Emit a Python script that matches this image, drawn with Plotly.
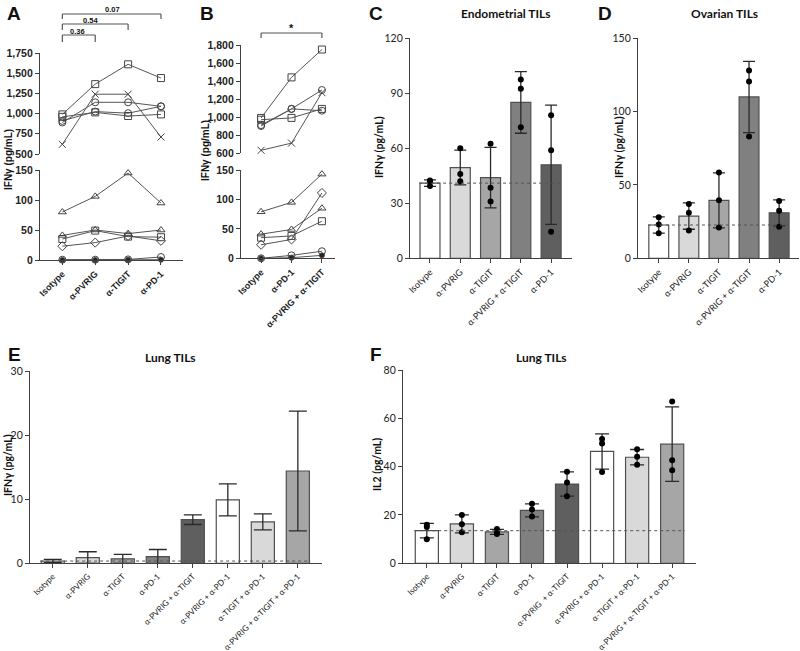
import plotly.graph_objects as go

W, H = 800, 651

# ---------------- DATA ----------------
A_cats = ["Isotype", "α-PVRIG", "α-TIGIT", "α-PD-1"]
A_high_sq1 = [990, 1365, 1610, 1440]
A_high_x = [620, 1240, 1240, 710]
A_high_circ1 = [890, 1140, 1140, 1090]
A_high_circ2 = [910, 1025, 1005, 1090]
A_high_sq2 = [960, 1015, 970, 990]
A_low_tri1 = [80, 106, 145, 95]
A_low_tri2 = [41, 50, 44, 50]
A_low_sq = [35, 49, 39, 38]
A_low_dia = [23, 29, 40, 32]
A_low_circ = [0.5, 0.5, 1, 5]
A_low_dot = [0, 0, 0.5, 0.5]
A_pvals = ["0.07", "0.54", "0.36"]

B_cats = ["Isotype", "α-PD-1", "α-PVRIG + α-TIGIT"]
B_high_sq1 = [990, 1440, 1750]
B_high_x = [630, 710, 1270]
B_high_circ1 = [900, 1090, 1300]
B_high_circ2 = [910, 1090, 1070]
B_high_sq2 = [970, 990, 1090]
B_low_tri1 = [79, 95, 143]
B_low_tri2 = [41, 49, 85]
B_low_dia = [23, 32, 111]
B_low_sq = [35, 38, 63]
B_low_circ = [0, 5, 12]
B_low_dot = [0, 1, 5]

C_cats = ["Isotype", "α-PVRIG", "α-TIGIT", "α-PVRIG + α-TIGIT", "α-PD-1"]
C_mean = [41, 49.5, 44, 85, 51]
C_sd = [1.8, 9.5, 16.5, 16.8, 32.5]
C_pts = [[39.5, 42, 42.5], [42, 46, 60], [31, 38.5, 62.5], [71.5, 92.5, 97.5], [14.5, 59, 78]]

D_cats = ["Isotype", "α-PVRIG", "α-TIGIT", "α-PVRIG + α-TIGIT", "α-PD-1"]
D_mean = [22.7, 28.8, 39.5, 110, 31]
D_sd = [5.5, 9, 18.7, 24.3, 8.9]
D_pts = [[17, 23, 28], [19, 31, 37], [21, 39.5, 58.5], [83, 120.5, 128], [21.5, 32.5, 39]]

E_cats = ["Isotype", "α-PVRIG", "α-TIGIT", "α-PD-1", "α-PVRIG + α-TIGIT",
          "α-PVRIG + α-PD-1", "α-TIGIT + α-PD-1", "α-PVRIG + α-TIGIT + α-PD-1"]
E_mean = [0.35, 0.9, 0.7, 1.05, 6.8, 9.9, 6.45, 14.4]
E_sd = [0.25, 0.9, 0.7, 1.1, 0.75, 2.5, 1.25, 9.35]

F_cats = ["Isotype", "α-PVRIG", "α-TIGIT", "α-PD-1", "α-PVRIG  + α-TIGIT",
          "α-PVRIG + α-PD-1", "α-TIGIT + α-PD-1", "α-PVRIG + α-TIGIT + α-PD-1"]
F_mean = [13.5, 16.3, 13.0, 21.9, 32.8, 46.3, 43.9, 49.3]
F_sd = [3.0, 3.7, 1.0, 2.7, 5.0, 7.3, 3.2, 15.4]
F_pts = [[10, 15, 16], [12.8, 16.2, 20], [12.1, 12.7, 14.2], [19.4, 22.3, 24.6],
         [27.7, 33.4, 37.9], [37.8, 49.6, 51.4], [40.8, 44.1, 47.2], [38.5, 42.7, 67]]

CD_colors = ["#ffffff", "#d9d9d9", "#a6a6a6", "#808080", "#5f5f5f"]
EF_colors = ["#ffffff", "#d9d9d9", "#a6a6a6", "#808080", "#5f5f5f", "#ffffff", "#d9d9d9", "#a6a6a6"]

# ---------------- HELPERS ----------------
def dx(a, b):
    return [a / W, b / W]

def dy(top, bottom):
    return [1 - bottom / H, 1 - top / H]

def px(x):
    return x / W

def py(y):
    return 1 - y / H

AX = "#404040"
base_axis = dict(showline=True, linecolor=AX, linewidth=1.3, ticks="outside", ticklen=4,
                 tickwidth=1.3, tickcolor=AX, showgrid=False, zeroline=False, fixedrange=True,
                 automargin=False)
boldfont = dict(family="Liberation Sans, Arial", size=10.5, color="#222", weight="bold")
boldfont_x = dict(family="Liberation Sans, Arial", size=9, color="#222", weight="bold")
calfont = dict(family="Lato, Open Sans", size=10.5, color="#222")
calfont_cd = dict(family="Lato, Open Sans", size=9, color="#222")
calfont_ef = dict(family="Lato, Open Sans", size=8.2, color="#222")

fig = go.Figure()

LINE = "#555555"

def add_lines(cats, series, xa, ya):
    for vals, sym in series:
        filled = sym in ("circle",)
        fig.add_trace(go.Scatter(
            x=cats, y=vals, xaxis=xa, yaxis=ya, mode="lines+markers",
            line=dict(color=LINE, width=1),
            marker=dict(symbol=sym, size=7 if not filled else 5,
                        color="#222" if filled else "#444",
                        line=dict(width=1, color="#444")),
            cliponaxis=False, showlegend=False, hoverinfo="skip"))

# Panel A
add_lines(A_cats, [(A_high_sq1, "square-open"), (A_high_x, "x-thin-open"),
                   (A_high_circ1, "circle-open"), (A_high_circ2, "circle-open"),
                   (A_high_sq2, "square-open")], "x2", "y2")
add_lines(A_cats, [(A_low_tri1, "triangle-up-open"), (A_low_tri2, "triangle-up-open"),
                   (A_low_sq, "square-open"), (A_low_dia, "diamond-open"),
                   (A_low_circ, "circle-open"), (A_low_dot, "circle")], "x", "y")
# Panel B
add_lines(B_cats, [(B_high_sq1, "square-open"), (B_high_x, "x-thin-open"),
                   (B_high_circ1, "circle-open"), (B_high_circ2, "circle-open"),
                   (B_high_sq2, "square-open")], "x4", "y4")
add_lines(B_cats, [(B_low_tri1, "triangle-up-open"), (B_low_tri2, "triangle-up-open"),
                   (B_low_dia, "diamond-open"), (B_low_sq, "square-open"),
                   (B_low_circ, "circle-open"), (B_low_dot, "circle")], "x3", "y3")

def add_bars(cats, mean, sd, colors, xa, ya, capw, pts=None):
    fig.add_trace(go.Bar(
        x=cats, y=mean, xaxis=xa, yaxis=ya, width=0.66,
        marker=dict(color=colors, line=dict(color="#505050", width=1.2)),
        error_y=dict(type="data", array=sd, visible=True, color="#2a2a2a",
                     thickness=1.3, width=capw),
        showlegend=False, hoverinfo="skip"))
    if pts is not None:
        xs, ys = [], []
        for c, p in zip(cats, pts):
            for v in p:
                xs.append(c)
                ys.append(v)
        fig.add_trace(go.Scatter(
            x=xs, y=ys, xaxis=xa, yaxis=ya, mode="markers",
            marker=dict(color="black", size=6), cliponaxis=False,
            showlegend=False, hoverinfo="skip"))

add_bars(C_cats, C_mean, C_sd, CD_colors, "x5", "y5", 6, C_pts)
add_bars(D_cats, D_mean, D_sd, CD_colors, "x6", "y6", 6, D_pts)
add_bars(E_cats, E_mean, E_sd, EF_colors, "x7", "y7", 9)
add_bars(F_cats, F_mean, F_sd, EF_colors, "x8", "y8", 7, F_pts)

# ---------------- AXES ----------------
def xcat(domain, rng, anchor, cats, font, visible=True):
    d = dict(base_axis, domain=domain, range=rng, anchor=anchor, type="category",
             categoryorder="array", categoryarray=cats, tickangle=-45, tickfont=font,
             visible=visible)
    return d

def ylin(domain, rng, anchor, vals, font, fmt=None):
    d = dict(base_axis, domain=domain, range=rng, anchor=anchor, tickvals=vals, tickfont=font)
    if fmt:
        d["tickformat"] = fmt
    return d

layout = dict(
    width=W, height=H, margin=dict(l=0, r=0, t=0, b=0, autoexpand=False),
    paper_bgcolor="white", plot_bgcolor="white", showlegend=False,
    xaxis=xcat(dx(40, 183), [-0.68, 3.67], "y", A_cats, boldfont_x),
    yaxis=ylin(dy(170, 260), [0, 150], "x", [0, 50, 100, 150], boldfont),
    xaxis2=xcat(dx(40, 183), [-0.68, 3.67], "y2", A_cats, boldfont_x, visible=False),
    yaxis2=ylin(dy(53, 154), [500, 1750], "x2", [500, 750, 1000, 1250, 1500, 1750], boldfont, ","),
    xaxis3=xcat(dx(241, 335), [-0.66, 2.43], "y3", B_cats, boldfont_x),
    yaxis3=ylin(dy(170, 258.3), [0, 150], "x3", [0, 50, 100, 150], boldfont),
    xaxis4=xcat(dx(241, 335), [-0.66, 2.43], "y4", B_cats, boldfont_x, visible=False),
    yaxis4=ylin(dy(45, 153), [600, 1800], "x4", [600, 800, 1000, 1200, 1400, 1600, 1800], boldfont, ","),
    xaxis5=xcat(dx(410, 572), [-0.66, 4.69], "y5", C_cats, calfont_cd),
    yaxis5=ylin(dy(38.3, 258.3), [0, 120], "x5", [0, 30, 60, 90, 120], calfont),
    xaxis6=xcat(dx(638, 799), [-0.69, 4.66], "y6", D_cats, calfont_cd),
    yaxis6=ylin(dy(38.3, 258.3), [0, 150], "x6", [0, 50, 100, 150], calfont),
    xaxis7=xcat(dx(30, 322), [-0.65, 7.69], "y7", E_cats, calfont_ef),
    yaxis7=ylin(dy(371, 563.3), [0, 30], "x7", [0, 10, 20, 30], calfont),
    xaxis8=xcat(dx(403, 696), [-0.68, 7.68], "y8", F_cats, calfont_ef),
    yaxis8=ylin(dy(370, 563.3), [0, 80], "x8", [0, 20, 40, 60, 80], calfont),
)
fig.update_layout(**layout)

# ---------------- SHAPES ----------------
shapes = []
def hline_dotted(xa, ya, x0, x1, yv):
    shapes.append(dict(type="line", xref=xa, yref=ya, x0=x0, x1=x1, y0=yv, y1=yv,
                       line=dict(color="#555", width=1, dash="dot")))

hline_dotted("x5", "y5", -0.36, 4.36, C_mean[0])
hline_dotted("x6", "y6", -0.36, 4.36, D_mean[0])
hline_dotted("x7", "y7", -0.36, 7.36, E_mean[0])
hline_dotted("x8", "y8", -0.36, 7.36, F_mean[0])

def bracket(xa, i0, i1, ytop, ybot, color="#555"):
    ln = dict(color=color, width=1.2)
    shapes.append(dict(type="line", xref=xa, yref="paper", x0=i0, x1=i1, y0=py(ytop), y1=py(ytop), line=ln))
    shapes.append(dict(type="line", xref=xa, yref="paper", x0=i0, x1=i0, y0=py(ytop), y1=py(ybot), line=ln))
    shapes.append(dict(type="line", xref=xa, yref="paper", x0=i1, x1=i1, y0=py(ytop), y1=py(ybot), line=ln))

bracket("x", 0, 3, 14, 19)
bracket("x", 0, 2, 24, 30)
bracket("x", 0, 1, 35, 42)
bracket("x3", 0, 2, 33, 38)

fig.update_layout(shapes=shapes)

# ---------------- ANNOTATIONS ----------------
ann = []
def text(x, y, s, size, bold=False, family="Liberation Sans, Arial", angle=0, xanchor="center"):
    ann.append(dict(x=px(x), y=py(y), xref="paper", yref="paper", text=s, showarrow=False,
                    textangle=angle, xanchor=xanchor, yanchor="middle",
                    font=dict(family=family, size=size, color="#111",
                              weight="bold" if bold else "normal")))

# panel letters
text(14, 14, "A", 19, True)
text(207, 14, "B", 19, True)
text(376, 14, "C", 19, True)
text(605, 14, "D", 19, True)
text(14, 354, "E", 19, True)
text(376, 354, "F", 19, True)

# titles
text(506, 14, "Endometrial TILs", 12, True, "Lato, Open Sans")
text(724, 14, "Ovarian TILs", 12, True, "Lato, Open Sans")
text(170, 357, "Lung TILs", 12, True, "Lato, Open Sans")
text(541, 357, "Lung TILs", 12, True, "Lato, Open Sans")

# y labels
text(9, 160, "IFNγ (pg/mL)", 10, True, angle=-90)
text(205, 150, "IFNγ (pg/mL)", 10, True, angle=-90)
text(379, 147, "IFNγ (pg/mL)", 10.5, True, "Lato, Open Sans", angle=-90)
text(619, 147, "IFNγ (pg/mL)", 10.5, True, "Lato, Open Sans", angle=-90)
text(8, 465, "IFNγ (pg/mL)", 10.5, True, "Lato, Open Sans", angle=-90)
text(377, 465, "IL2 (pg/mL)", 10.5, True, "Lato, Open Sans", angle=-90)

# p-values
text(112, 10, A_pvals[0], 7.5, True)
text(90, 20.5, A_pvals[1], 7.5, True)
text(77, 31, A_pvals[2], 7.5, True)
text(291, 28, "*", 11, True)

fig.update_layout(annotations=ann)

fig.write_html("out.html", config={"displayModeBar": False})
with open("out.html", "r", encoding="utf-8") as f:
    html = f.read()
html = html.replace("<body>", '<body style="margin:0;padding:0;">', 1)
with open("out.html", "w", encoding="utf-8") as f:
    f.write(html)
